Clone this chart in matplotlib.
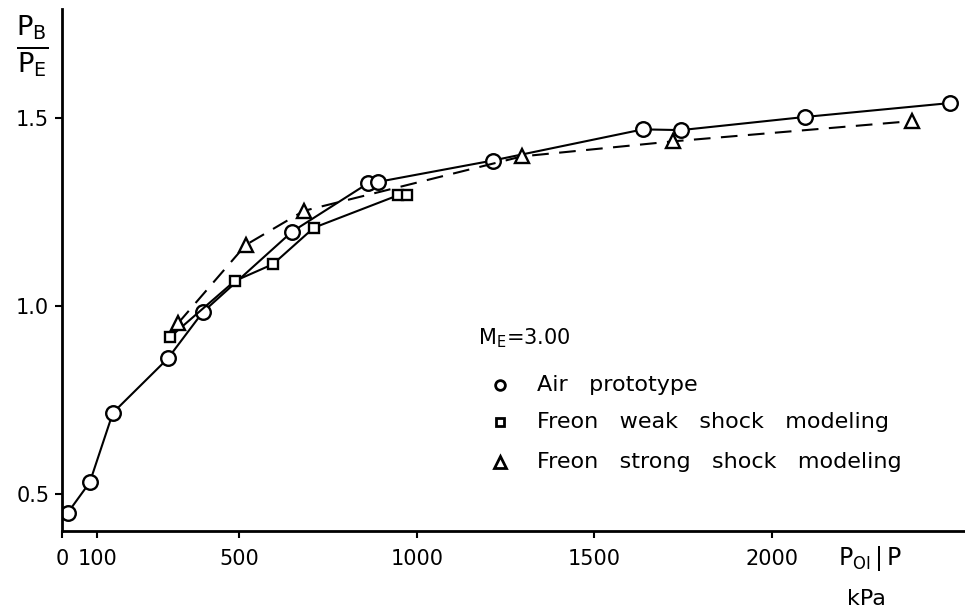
import numpy as np
import matplotlib
matplotlib.use("Agg")
import matplotlib.pyplot as plt

# (x in kPa, y = PB/PE)
air_x = [17, 79, 144, 299, 397, 648, 862, 890, 1214, 1637, 1744, 2093, 2501]
air_y = [0.449, 0.53, 0.715, 0.86, 0.983, 1.197, 1.326, 1.33, 1.387, 1.47, 1.468, 1.503, 1.54]

weak_x = [304, 487, 595, 710, 946, 972]
weak_y = [0.916, 1.066, 1.111, 1.208, 1.294, 1.294]

strong_x = [327, 518, 682, 1296, 1721, 2394]
strong_y = [0.953, 1.162, 1.253, 1.398, 1.438, 1.492]

xticks = [0, 100, 500, 1000, 1500, 2000]
yticks = [0.5, 1.0, 1.5]

plt.rcParams['font.family'] = ['DejaVu Sans']
fig = plt.figure(figsize=(9.65, 6.14), dpi=100)
ax = fig.add_axes([0.064, 0.135, 0.936, 0.85])

ax.plot(air_x, air_y, '-', color='black', lw=1.5, marker='o', ms=10.5,
        mfc='white', mec='black', mew=1.7)
ax.plot(weak_x, weak_y, '-', color='black', lw=1.5, marker='s', ms=7,
        mfc='white', mec='black', mew=1.7)
ax.plot(strong_x, strong_y, color='black', lw=1.5, ls=(0, (8, 5)), marker='^', ms=10,
        mfc='white', mec='black', mew=1.7)

ax.set_xlim(0, 2544)
ax.set_ylim(0.4, 1.79)
ax.set_xticks(xticks)
ax.set_xticklabels([str(t) for t in xticks])
ax.set_yticks(yticks)
ax.set_yticklabels(['%.1f' % t for t in yticks])
ax.tick_params(direction='out', length=5, width=1.5, labelsize=15, pad=4)
ax.tick_params(axis='x', pad=8)
for s in ['top', 'right']:
    ax.spines[s].set_visible(False)
for s in ['left', 'bottom']:
    ax.spines[s].set_linewidth(2)

# axis labels
fig.text(0.033, 0.925, r'$\frac{\mathrm{P_B}}{\mathrm{P_E}}$', fontsize=28, ha='center', va='center')
fig.text(0.868, 0.09, r'$\mathrm{P_{OI}\,|\,P}$', fontsize=17, ha='left', va='center')
fig.text(0.878, 0.025, 'kPa', fontsize=16, ha='left', va='center')

# legend as text
fig.text(0.4955, 0.45, r'$\mathrm{M_E}$=3.00', fontsize=15, va='center')
lx_m = 0.518
lx_t = 0.556
ax.plot([lx_m], [0.373], 'o', ms=7, mfc='white', mec='black', mew=2, transform=fig.transFigure)
ax.plot([lx_m], [0.313], 's', ms=6, mfc='white', mec='black', mew=2, transform=fig.transFigure)
ax.plot([lx_m], [0.248], '^', ms=8, mfc='white', mec='black', mew=2, transform=fig.transFigure)
fig.text(lx_t, 0.373, 'Air   prototype', fontsize=16, va='center')
fig.text(lx_t, 0.313, 'Freon   weak   shock   modeling', fontsize=16, va='center')
fig.text(lx_t, 0.248, 'Freon   strong   shock   modeling', fontsize=16, va='center')

fig.savefig('out.png', dpi=100)
